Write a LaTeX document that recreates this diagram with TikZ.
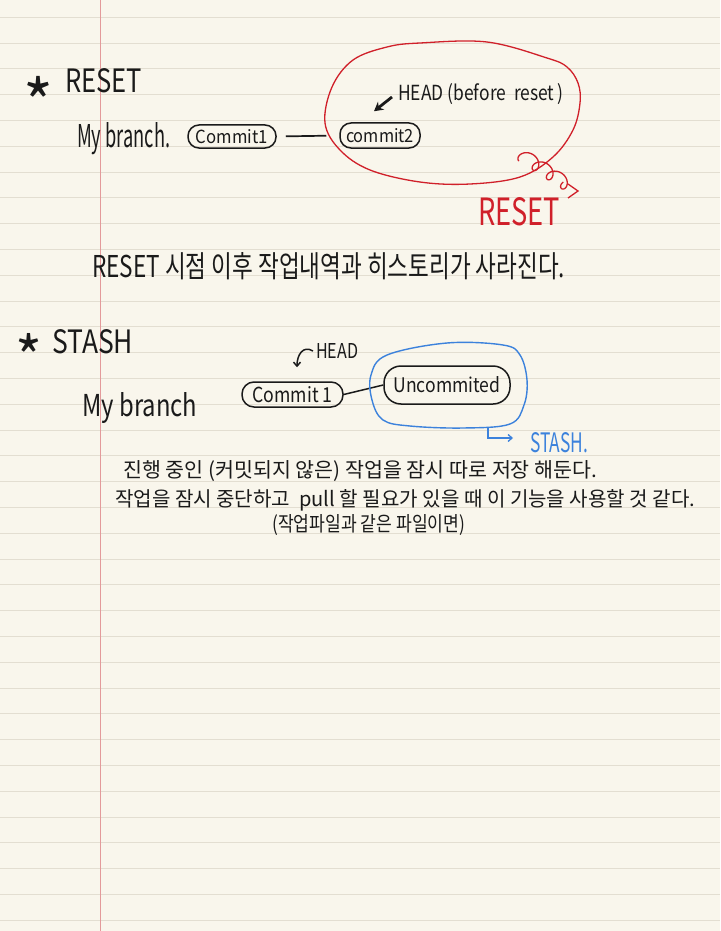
\documentclass[tikz,border=0pt]{standalone}
\usepackage{fontspec}
\setmainfont{Noto Sans CJK KR}
\usepackage{graphicx}
\usetikzlibrary{calc,arrows.meta}
\definecolor{bgc}{HTML}{F9F6EC}
\definecolor{rulec}{HTML}{E3DED1}
\definecolor{marginc}{HTML}{E39A9A}
\definecolor{inkred}{HTML}{D0202A}
\definecolor{inkblue}{HTML}{3C82DC}
\definecolor{ink}{HTML}{1A1A1A}
\newcommand{\hw}[3]{\resizebox{#1pt}{#2pt}{#3}}
\tikzset{
  txt/.style={inner sep=0pt, anchor=base west, text=ink},
  commitbox/.style={draw=ink, line width=1.5pt, inner sep=0pt, text=ink},
  rulel/.style={draw=rulec, line width=1pt},
}
\begin{document}
\begin{tikzpicture}[x=1pt,y=-1pt]
\useasboundingbox (0,0) rectangle (720,931);
\fill[bgc] (0,0) rectangle (720,931);
\foreach \k in {0,...,35} \draw[rulel] (0,{17.3+25.8*\k}) -- (720,{17.3+25.8*\k});
\draw[marginc, line width=1pt] (100.5,0) -- (100.5,931);

% ---------- RESET section ----------
\node[inner sep=0pt, anchor=north west, text=ink] (ast1) at (23,76) {\resizebox{30pt}{!}{*}};
\node[txt] (resetH) at (65,93) {\hw{77}{24}{RESET}};
\node[txt] (mybr1) at (77,147) {\hw{93}{25}{My branch.}};
\node[commitbox, minimum width=88pt, minimum height=23pt, rounded corners=11pt] (c1r) at (232,136.5) {\hw{72}{14}{Commit1}};
\node[commitbox, minimum width=80pt, minimum height=25pt, rounded corners=11pt] (c2r) at (380,135.5) {\hw{68}{14}{commit2}};
\draw[ink, line width=1.7pt, shorten <=9pt, shorten >=13pt] (c1r.east) -- (c2r.west);
\node[txt] (headr) at (398,101) {\hw{165}{17}{HEAD (before\ \ reset\,)}};
\draw[ink, line width=2.8pt, -{Stealth[length=9pt,width=10pt]}] ($(headr.base west)+(-6,-4)$) -- ($(c2r.north)+(-6,-11)$);
\draw[inkred, line width=1.3pt] plot[smooth cycle, tension=0.6] coordinates {
 (487,42) (547,58) (567,67) (578,83) (580,103) (573,130) (553,157) (520,177)
 (470,184) (420,182) (370,170) (340,150) (325,123) (332,87) (353,60) (387,47) (420,43)};
\draw[inkred, line width=1.3pt] plot[smooth, domain=0:1170, samples=140]
 ({519 + (2.7*\x*pi/180 - 6.5*sin(\x))*cos(33) + 6.5*(1-cos(\x))*sin(33)},
  {161 + (2.7*\x*pi/180 - 6.5*sin(\x))*sin(33) - 6.5*(1-cos(\x))*cos(33)});
\draw[inkred, line width=1.3pt] (568,184) -- (578,191) -- (568,198);
\node[txt, text=inkred] (resetr) at (478,225) {\hw{82}{28}{RESET}};
\node[txt] (kor1) at (92,277) {\hw{473}{25}{RESET 시점 이후 작업내역과 히스토리가 사라진다.}};

% ---------- STASH section ----------
\node[inner sep=0pt, anchor=north west, text=ink] (ast2) at (15,333) {\resizebox{27pt}{!}{*}};
\node[txt] (stashH) at (52,353) {\hw{81}{24}{STASH}};
\node[txt] (mybr2) at (82,416) {\hw{115}{24}{My branch}};
\node[commitbox, minimum width=101pt, minimum height=25pt, rounded corners=12pt] (c1s) at (292.5,394.5) {\hw{80}{16}{Commit 1}};
\node[commitbox, minimum width=126pt, minimum height=38pt, rounded corners=17pt] (unc) at (447,385) {\hw{107}{16}{Uncommited}};
\draw[ink, line width=1.5pt] (c1s.east) -- (unc.west);
\node[txt] (heads) at (316,358) {\hw{42}{15}{HEAD}};
\draw[ink, line width=1.5pt, -{Straight Barb[length=4pt,width=7pt]}] ($(heads.base west)+(-3,-7)$) .. controls (303,345) and (297,355) .. ($(c1s.north)+(4.5,-14)$);
\draw[inkblue, line width=1.4pt] plot[smooth cycle, tension=0.6] coordinates {
 (387,355) (447,343) (503,345) (520,355) (527,380) (524,405) (510,424) (463,428)
 (410,426) (383,420) (372,400) (371,375)};
\coordinate (bluebot) at (488,428);
\node[txt, text=inkblue] (stashl) at (530,452) {\hw{58}{20}{STASH.}};
\draw[inkblue, line width=1.3pt, -{Straight Barb[length=4pt,width=7pt]}] (bluebot) |- ($(stashl.base west)+(-17,-14)$);
\node[txt] (kor2) at (123,477) {\hw{474}{17}{진행 중인 (커밋되지 않은) 작업을 잠시 따로 저장 해둔다.}};
\node[txt] (kor3) at (115,506) {\hw{580}{17}{작업을 잠시 중단하고 \ pull 할 필요가 있을 때 이 기능을 사용할 것 같다.}};
\node[txt] (kor4) at (272,531) {\hw{193}{17}{(작업파일과 같은 파일이면)}};
\end{tikzpicture}
\end{document}
